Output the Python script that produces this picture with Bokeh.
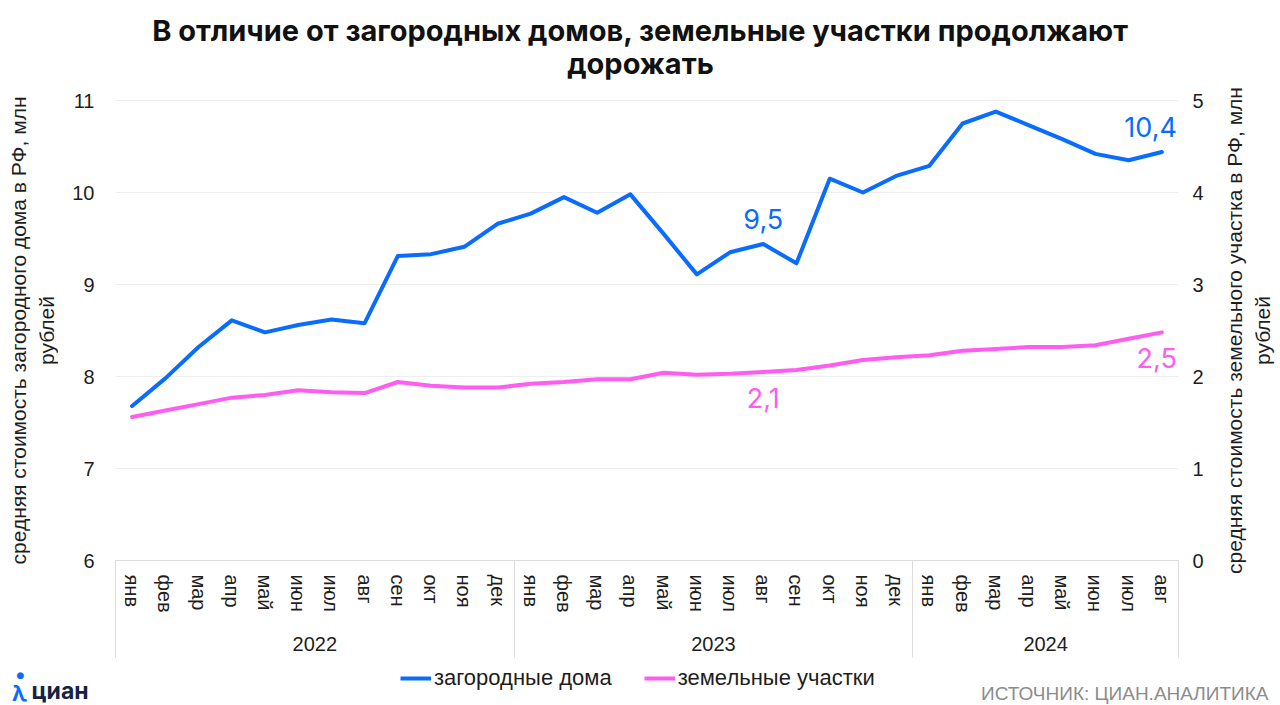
import math
from bokeh.plotting import figure
from bokeh.layouts import column, row
from bokeh.models import (Range1d, LinearAxis, FixedTicker, Label, Legend, LegendItem)
from bokeh.embed import file_html
from bokeh.resources import INLINE

# ---- data ----
month_names = ["янв", "фев", "мар", "апр", "май", "июн", "июл", "авг", "сен", "окт", "ноя", "дек",
               "янв", "фев", "мар", "апр", "май", "июн", "июл", "авг", "сен", "окт", "ноя", "дек",
               "янв", "фев", "мар", "апр", "май", "июн", "июл", "авг"]
years = ["2022", "2023", "2024"]
year_month_counts = [12, 12, 8]
houses = [7.68, 7.98, 8.32, 8.61, 8.48, 8.56, 8.62, 8.58, 9.31, 9.33, 9.41, 9.66,
          9.77, 9.95, 9.78, 9.98, 9.55, 9.11, 9.35, 9.44, 9.23, 10.15, 10.00, 10.18,
          10.29, 10.75, 10.88, 10.73, 10.58, 10.42, 10.35, 10.44]
land = [1.56, 1.63, 1.70, 1.77, 1.80, 1.85, 1.83, 1.82, 1.94, 1.90, 1.88, 1.88,
        1.92, 1.94, 1.97, 1.97, 2.04, 2.02, 2.03, 2.05, 2.07, 2.12, 2.18, 2.21,
        2.23, 2.28, 2.30, 2.32, 2.32, 2.34, 2.41, 2.48]
left_ticks = [6, 7, 8, 9, 10, 11]
right_ticks = [0, 1, 2, 3, 4, 5]
series_names = ["загородные дома", "земельные участки"]
title_lines = ["В отличие от загородных домов, земельные участки продолжают", "дорожать"]
left_label = "средняя стоимость загородного дома в РФ, млн\nрублей"
right_label = "средняя стоимость земельного участка в РФ, млн\nрублей"
callouts_houses = [(19, "9,5"), (31, "10,4")]
callouts_land = [(19, "2,1"), (31, "2,5")]
source_text = "ИСТОЧНИК: ЦИАН.АНАЛИТИКА"
brand_text = "циан"

BLUE = "#0A6CFF"
PINK = "#FF5CF2"
TXT = "#1E1E1E"
AXF = "Liberation Sans"

x = list(range(len(month_names)))


def bare(fig):
    fig.outline_line_color = None
    fig.background_fill_color = "white"
    fig.border_fill_color = "white"
    fig.frame_align = False


def text_panel(width, height):
    fig = figure(width=width, height=height, output_backend="svg", toolbar_location=None,
                 x_axis_location=None, y_axis_location=None,
                 x_range=Range1d(0, 1), y_range=Range1d(0, 1), min_border=0)
    bare(fig)
    fig.grid.visible = False
    return fig


# ---------------- main chart ----------------
p = figure(width=1152, height=660, output_backend="svg", toolbar_location=None,
           x_range=Range1d(-0.5, len(month_names) - 0.5), y_range=Range1d(6, 12),
           min_border_left=57, min_border_right=32, min_border_top=8, min_border_bottom=100)
p.extra_y_ranges = {"right": Range1d(0, 6)}
bare(p)

# title (inside the frame, in the area above the 11 line)
for txt, yy in zip(title_lines, [530, 497]):
    p.add_layout(Label(x=525, y=yy, x_units="screen", y_units="screen", text=txt,
                       text_align="center", text_baseline="middle", text_font="Inter",
                       text_font_size="29px", text_font_style="bold", text_color="#111111"))

# x axis: months
boundaries = [-0.5]
for c in year_month_counts:
    boundaries.append(boundaries[-1] + c)
xa = p.xaxis[0]
xa.ticker = FixedTicker(ticks=x, minor_ticks=boundaries)
xa.major_label_overrides = {i: m for i, m in enumerate(month_names)}
xa.major_label_orientation = "vertical"
xa.major_label_text_font = AXF
xa.major_label_text_font_size = "20px"
xa.major_label_text_color = TXT
xa.major_label_standoff = 8
xa.major_tick_line_color = None
xa.minor_tick_in = -97
xa.minor_tick_out = 0
xa.minor_tick_line_color = "#DCDCDC"
xa.axis_line_color = "#DCDCDC"

# x axis: years
centers = [(boundaries[i] + boundaries[i + 1]) / 2 for i in range(len(years))]
year_axis = LinearAxis(ticker=FixedTicker(ticks=centers),
                       major_label_overrides={c: y for c, y in zip(centers, years)})
year_axis.axis_line_color = None
year_axis.major_tick_line_color = None
year_axis.minor_tick_line_color = None
year_axis.major_label_text_font = AXF
year_axis.major_label_text_font_size = "20px"
year_axis.major_label_text_color = TXT
year_axis.major_label_standoff = 15
p.add_layout(year_axis, "below")

# left axis (ticks); its title is drawn in the narrow panel to the left
la = p.yaxis[0]
la.ticker = FixedTicker(ticks=left_ticks)
la.axis_line_color = None
la.major_tick_line_color = None
la.minor_tick_line_color = None
la.major_label_text_font = AXF
la.major_label_text_font_size = "20px"
la.major_label_text_color = TXT
la.major_label_standoff = 15

# right axis (ticks); its title is drawn in the narrow panel to the right
ra = LinearAxis(y_range_name="right", ticker=FixedTicker(ticks=right_ticks))
ra.axis_line_color = None
ra.major_tick_line_color = None
ra.minor_tick_line_color = None
ra.major_label_text_font = AXF
ra.major_label_text_font_size = "20px"
ra.major_label_text_color = TXT
ra.major_label_standoff = 8
p.add_layout(ra, "right")

p.xgrid.visible = False
p.ygrid.grid_line_color = "#EEEEEE"
p.ygrid.grid_line_width = 1
p.ygrid.ticker = FixedTicker(ticks=left_ticks)

# lines
r1 = p.line(x, houses, line_color=BLUE, line_width=4, line_join="round", line_cap="round")
r2 = p.line(x, land, line_color=PINK, line_width=4, line_join="round", line_cap="round",
            y_range_name="right")

# callouts
last = len(month_names) - 1
for i, t in callouts_houses:
    p.add_layout(Label(x=i, y=houses[i], text=t,
                       text_align="right" if i == last else "center",
                       x_offset=15 if i == last else 0,
                       text_baseline="middle", y_offset=25, text_font="Inter",
                       text_font_size="27px", text_color=BLUE))
for i, t in callouts_land:
    p.add_layout(Label(x=i, y=land[i], text=t,
                       text_align="right" if i == last else "center",
                       x_offset=15 if i == last else 0,
                       text_baseline="middle", y_offset=-26, text_font="Inter",
                       text_font_size="27px", text_color=PINK, y_range_name="right"))

# ---------------- axis titles ----------------
lp = text_panel(58, 660)
lp.add_layout(Label(x=32, y=330, x_units="screen", y_units="screen", text=left_label,
                    angle=math.pi / 2, text_align="center", text_baseline="middle",
                    text_font=AXF, text_font_size="21px", text_color=TXT,
                    text_line_height=1.2))
rp = text_panel(70, 660)
rp.add_layout(Label(x=38, y=330, x_units="screen", y_units="screen", text=right_label,
                    angle=math.pi / 2, text_align="center", text_baseline="middle",
                    text_font=AXF, text_font_size="21px", text_color=TXT,
                    text_line_height=1.2))

# ---------------- footer: legend, brand, source ----------------
f = text_panel(1280, 45)
nan = float("nan")
k1 = f.line([nan], [nan], line_color=BLUE, line_width=4)
k2 = f.line([nan], [nan], line_color=PINK, line_width=4)
legend = Legend(items=[LegendItem(label=series_names[0], renderers=[k1]),
                       LegendItem(label=series_names[1], renderers=[k2])],
                orientation="horizontal", location=(400, 14),
                border_line_color=None, background_fill_alpha=0, padding=0, margin=0,
                spacing=32, glyph_width=31, glyph_height=20, label_height=20,
                label_standoff=3, label_text_font=AXF, label_text_font_size="22px",
                label_text_color=TXT, label_text_baseline="middle")
f.add_layout(legend, "center")

f.add_layout(Label(x=31, y=15, x_units="screen", y_units="screen", text=brand_text,
                   text_align="left", text_baseline="middle", text_font="Inter",
                   text_font_size="23px", text_font_style="bold", text_color="#152242"))
f.add_layout(Label(x=19, y=13, x_units="screen", y_units="screen", text="λ",
                   text_align="center", text_baseline="middle", text_font="Inter",
                   text_font_size="22px", text_font_style="bold", text_color=BLUE))
f.add_layout(Label(x=20, y=31, x_units="screen", y_units="screen", text="●",
                   text_align="center", text_baseline="middle", text_font="DejaVu Sans",
                   text_font_size="9px", text_color=BLUE))
f.add_layout(Label(x=1268, y=12, x_units="screen", y_units="screen", text=source_text,
                   text_align="right", text_baseline="middle", text_font=AXF,
                   text_font_size="19px", text_color="#8C8C8C"))

layout = column(row(lp, p, rp, spacing=0), f, spacing=0)
open("out.html", "w").write(file_html(layout, INLINE))
